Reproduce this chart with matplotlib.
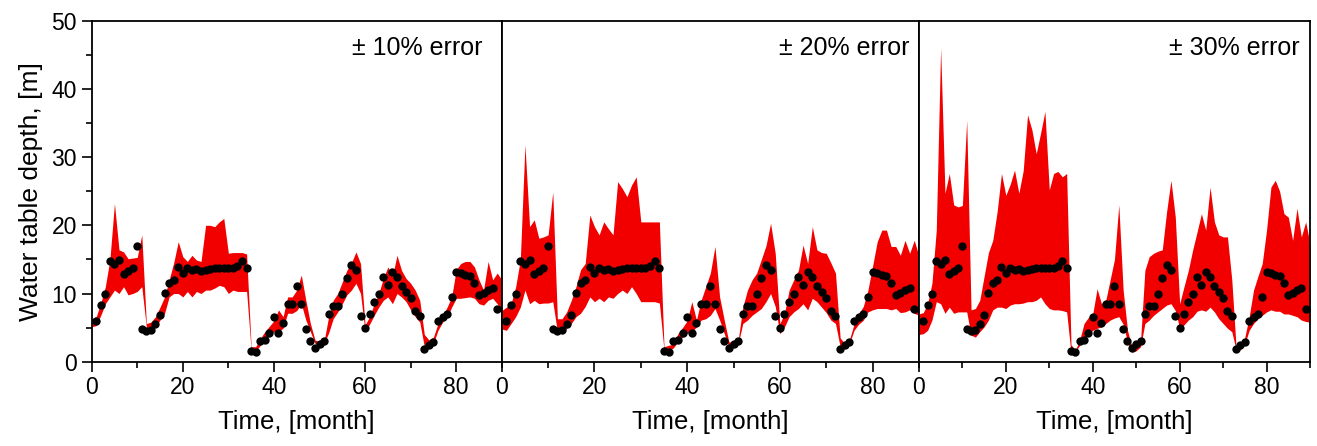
import numpy as np
import matplotlib
matplotlib.use("Agg")
import matplotlib.pyplot as plt
from matplotlib.ticker import MultipleLocator

plt.rcParams['font.family'] = ['Liberation Sans', 'DejaVu Sans']

# observed water table depth, months 1..89
obs_month = np.arange(1, 90)
obs_depth = [5.9, 8.3, 9.9, 14.7, 14.3, 14.9, 12.8, 13.3, 13.7, 16.9,
             4.75, 4.5, 4.65, 5.5, 6.85, 10.1, 11.6, 12.0, 13.9, 13.0,
             13.8, 13.5, 13.6, 13.3, 13.5, 13.6, 13.7, 13.8, 13.7, 13.8,
             13.8, 14.0, 14.7, 13.8, 1.57, 1.4, 3.0, 3.2, 4.2, 6.5,
             4.25, 5.7, 8.4, 8.45, 11.1, 8.45, 4.75, 3.0, 2.05, 2.6,
             3.0, 7.0, 8.1, 8.2, 9.9, 12.3, 14.2, 13.4, 6.7, 4.9,
             7.0, 8.7, 9.9, 12.4, 11.3, 13.1, 12.4, 11.1, 10.2, 9.3,
             7.5, 6.7, 1.8, 2.45, 2.85, 6.0, 6.6, 7.0, 9.5, 13.1,
             12.95, 12.7, 12.6, 11.6, 9.8, 10.1, 10.5, 10.85, 7.8]

# simulated band, months 0..90
band_month = np.arange(0, 91)

upper_10 = [6.3, 6.6, 8.6, 11.0, 15.0, 23.2, 16.4, 16.1, 15.1, 15.2,
            15.3, 18.6, 5.6, 5.8, 6.6, 8.0, 9.5, 12.0, 14.5, 17.6,
            15.4, 14.7, 15.6, 14.9, 14.7, 20.0, 20.0, 19.8, 20.5, 21.0,
            15.9, 16.0, 16.0, 16.0, 15.8, 2.2, 2.2, 3.4, 4.4, 5.2,
            6.0, 7.6, 6.6, 9.5, 9.5, 10.5, 12.7, 9.0, 5.6, 3.2,
            2.9, 3.0, 6.6, 9.0, 10.0, 11.7, 13.4, 14.5, 16.1, 14.4,
            5.4, 6.6, 8.5, 10.0, 12.2, 13.9, 12.5, 15.6, 13.4, 12.2,
            11.5, 10.5, 9.0, 4.0, 3.2, 3.6, 5.6, 6.6, 8.0, 9.5,
            13.5, 14.4, 14.7, 14.7, 13.9, 12.0, 10.5, 14.7, 12.0, 13.0,
            12.0]
lower_10 = [5.1, 5.3, 6.8, 8.5, 9.5, 10.5, 10.0, 11.0, 9.8, 10.0,
            10.3, 11.0, 5.1, 4.4, 5.1, 6.1, 7.1, 9.5, 10.0, 10.0,
            9.5, 10.3, 9.5, 10.3, 10.0, 10.5, 10.5, 10.8, 11.2, 11.0,
            10.0, 10.5, 10.3, 10.3, 10.3, 1.7, 1.5, 2.4, 3.2, 3.8,
            4.4, 4.4, 4.9, 7.1, 7.1, 7.5, 8.5, 6.1, 4.4, 2.7,
            2.5, 2.7, 4.2, 6.3, 7.3, 8.5, 9.8, 10.5, 11.5, 10.0,
            4.4, 5.5, 6.8, 8.0, 9.0, 9.5, 8.5, 10.0, 9.5, 8.8,
            7.6, 6.6, 5.8, 2.2, 2.2, 2.7, 4.6, 5.8, 6.5, 8.0,
            9.3, 9.3, 9.4, 9.5, 9.3, 8.5, 8.3, 9.0, 9.3, 8.5,
            7.5]

upper_20 = [7.5, 8.0, 8.5, 11.0, 15.0, 31.8, 19.8, 20.8, 18.1, 18.3,
            18.6, 24.9, 6.3, 6.3, 7.3, 9.0, 11.0, 13.5, 14.4, 21.5,
            19.8, 18.6, 20.5, 19.5, 18.6, 26.4, 25.4, 24.2, 25.9, 27.1,
            20.5, 20.5, 20.5, 20.5, 20.5, 2.2, 2.4, 2.6, 4.1, 5.0,
            6.0, 8.8, 6.1, 9.0, 11.0, 13.0, 16.9, 9.5, 6.1, 2.9,
            2.9, 3.1, 8.0, 10.5, 12.0, 13.0, 15.0, 17.0, 20.3, 15.9,
            5.6, 7.1, 10.5, 12.0, 13.4, 17.1, 14.4, 19.8, 16.4, 16.0,
            15.9, 14.5, 13.0, 3.5, 2.7, 3.2, 5.5, 7.0, 8.1, 10.5,
            14.0, 17.6, 19.3, 19.3, 16.9, 16.9, 15.6, 17.8, 15.9, 17.8,
            15.5]
lower_20 = [4.8, 4.6, 5.6, 6.6, 8.0, 10.5, 8.5, 9.0, 8.5, 8.6,
            8.6, 8.8, 4.4, 4.1, 4.9, 5.6, 6.6, 7.1, 8.1, 9.5,
            8.8, 9.3, 8.8, 9.5, 9.3, 10.0, 10.5, 10.0, 11.0, 10.0,
            8.8, 8.8, 8.8, 8.8, 8.6, 1.7, 1.7, 2.0, 2.9, 3.6,
            4.2, 4.4, 5.1, 6.1, 6.3, 6.8, 7.8, 6.1, 4.1, 2.2,
            2.4, 2.6, 5.6, 6.1, 6.8, 7.3, 7.8, 8.8, 10.0, 8.1,
            4.1, 5.1, 6.6, 7.3, 7.8, 8.5, 7.6, 9.3, 8.8, 8.0,
            7.2, 6.1, 5.6, 2.2, 2.2, 2.6, 4.6, 5.5, 6.1, 7.3,
            7.6, 7.8, 7.8, 7.8, 7.6, 7.8, 7.2, 7.3, 7.6, 7.1,
            6.8]

upper_30 = [7.0, 7.2, 8.5, 11.5, 19.3, 46.0, 24.7, 27.6, 23.0, 22.7,
            22.9, 35.4, 7.6, 7.8, 9.0, 12.5, 16.0, 17.8, 22.0, 27.6,
            24.4, 26.0, 28.1, 24.7, 28.0, 36.2, 34.0, 30.5, 33.5, 36.7,
            25.2, 27.6, 27.9, 27.1, 27.6, 2.5, 1.7, 3.2, 5.6, 6.5,
            7.0, 10.7, 8.5, 9.0, 12.0, 15.0, 23.0, 10.5, 4.6, 2.2,
            2.4, 3.0, 13.4, 15.4, 15.9, 16.2, 16.4, 22.0, 26.6, 21.2,
            8.5, 11.0, 13.4, 16.4, 19.0, 21.7, 19.3, 25.6, 20.5, 18.6,
            18.3, 18.3, 12.0, 2.0, 1.7, 3.6, 6.6, 10.5, 12.5, 14.4,
            19.3, 25.6, 26.6, 25.0, 21.7, 21.2, 17.8, 22.5, 18.3, 20.5,
            17.3]
lower_30 = [4.0, 4.1, 4.6, 6.1, 8.8, 8.5, 7.1, 8.0, 7.1, 7.3,
            7.3, 7.3, 3.9, 3.6, 4.4, 5.1, 6.1, 7.6, 8.0, 8.0,
            7.8, 8.3, 8.5, 8.5, 8.6, 8.8, 8.8, 9.0, 9.5, 8.5,
            7.8, 7.6, 7.6, 7.5, 7.3, 1.2, 1.5, 2.4, 3.2, 4.1,
            4.6, 4.9, 5.1, 5.6, 6.1, 6.4, 6.6, 5.5, 2.9, 1.4,
            1.6, 2.2, 5.6, 6.1, 6.8, 7.3, 7.8, 8.3, 8.5, 7.5,
            4.9, 5.4, 6.1, 6.6, 7.4, 7.6, 7.4, 8.0, 7.3, 6.3,
            5.6, 4.9, 4.4, 1.7, 2.0, 2.6, 4.6, 5.6, 6.3, 6.8,
            7.3, 7.6, 7.4, 7.4, 7.0, 7.0, 6.8, 6.6, 6.1, 5.9,
            5.8]

labels = ['± 10% error', '± 20% error', '± 30% error']
uppers = [upper_10, upper_20, upper_30]
lowers = [lower_10, lower_20, lower_30]
label_x = [0.954, 0.978, 0.974]

fig = plt.figure(figsize=(13.17, 4.46), dpi=100)
gs = fig.add_gridspec(1, 3, width_ratios=[410, 417, 391], wspace=0,
                      left=0.0696, right=0.9947, bottom=0.189, top=0.9536)

axes = []
for i in range(3):
    ax = fig.add_subplot(gs[0, i])
    axes.append(ax)
    ax.fill_between(band_month, lowers[i], uppers[i], color='#f20000',
                    linewidth=0, zorder=1)
    ax.plot(obs_month, obs_depth, 'o', color='black', markersize=6,
            markeredgewidth=0, zorder=2)
    ax.set_xlim(0, 90)
    ax.set_ylim(0, 50)
    ax.xaxis.set_major_locator(MultipleLocator(20))
    ax.xaxis.set_minor_locator(MultipleLocator(10))
    ax.yaxis.set_major_locator(MultipleLocator(10))
    ax.yaxis.set_minor_locator(MultipleLocator(5))
    ax.tick_params(axis='x', which='major', direction='out', length=7,
                   width=1.2, labelsize=16.5, pad=3)
    ax.tick_params(axis='x', which='minor', direction='out', length=4,
                   width=1.2)
    for s in ax.spines.values():
        s.set_linewidth(1.3)
    ax.set_xlabel('Time, [month]', fontsize=18.5, labelpad=8)
    ax.text(label_x[i], 0.92, labels[i], transform=ax.transAxes,
            ha='right', va='center', fontsize=18)
    if i == 0:
        ax.tick_params(axis='y', which='major', direction='out', length=7,
                       width=1.2, labelsize=16.5)
        ax.tick_params(axis='y', which='minor', direction='out', length=4,
                       width=1.2)
        ax.set_ylabel('Water table depth, [m]', fontsize=19, labelpad=6)
    else:
        ax.tick_params(axis='y', which='both', left=False, labelleft=False)

fig.savefig('out.png', dpi=100)
